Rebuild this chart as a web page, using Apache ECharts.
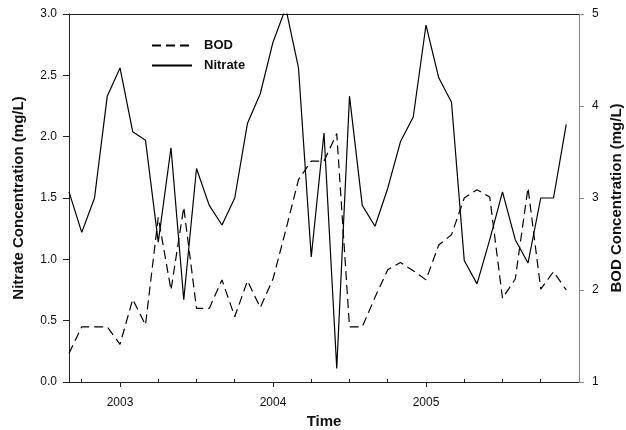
<!DOCTYPE html>
<html><head><meta charset="utf-8">
<script src="https://cdn.jsdelivr.net/npm/echarts@6/dist/echarts.min.js"></script>
<style>html,body{margin:0;padding:0;background:#fff}#c{width:626px;height:430px}</style>
</head><body><div id="c"></div>
<script>
const dates = ["2002-09","2002-10","2002-11","2002-12","2003-01","2003-02","2003-03","2003-04","2003-05","2003-06",
  "2003-07","2003-08","2003-09","2003-10","2003-11","2003-12","2004-01","2004-02","2004-03","2004-04",
  "2004-05","2004-06","2004-07","2004-08","2004-09","2004-10","2004-11","2004-12","2005-01","2005-02",
  "2005-03","2005-04","2005-05","2005-06","2005-07","2005-08","2005-09","2005-10","2005-11","2005-12"];
const nitrate = [1.55,1.22,1.50,2.33,2.56,2.04,1.97,1.14,1.91,0.67,
  1.74,1.44,1.28,1.50,2.11,2.35,2.77,3.05,2.56,1.02,
  2.03,0.11,2.33,1.44,1.27,1.58,1.96,2.16,2.91,2.48,
  2.28,0.99,0.80,1.16,1.55,1.16,0.97,1.50,1.50,2.10];
const bod = [1.31,1.60,1.60,1.60,1.41,1.90,1.62,2.79,2.00,2.90,
  1.80,1.80,2.11,1.71,2.10,1.81,2.12,2.65,3.20,3.40,
  3.40,3.70,1.60,1.60,1.92,2.22,2.30,2.21,2.11,2.49,
  2.60,3.00,3.09,3.01,1.91,2.12,3.11,2.01,2.20,2.00];
const yearTicks = [2003, 2004, 2005];
const quarterTicks = [2002.75, 2003.25, 2003.5, 2003.75, 2004.25, 2004.5, 2004.75, 2005.25, 2005.5, 2005.75];

const toYear = d => +d.slice(0,4) + (+d.slice(5,7) - 1) / 12;
const xMin = toYear("2002-09"), xMax = 2006;
const font = "'Liberation Sans', Arial, sans-serif";
const dark = '#222';

const chart = echarts.init(document.getElementById('c'));
chart.setOption({
  animation: false,
  backgroundColor: '#fff',
  grid: { left: 69, right: 47, top: 14, bottom: 48, containLabel: false, outerBoundsMode: 'none' },
  legend: {
    orient: 'vertical', left: 146, top: 34, itemWidth: 40, itemHeight: 12, itemGap: 7,
    data: ['BOD', 'Nitrate'],
    itemStyle: { color: 'transparent', borderColor: 'transparent', borderWidth: 0 },
    textStyle: { fontFamily: font, fontWeight: 'bold', fontSize: 13, color: '#111', padding: [0,0,0,7] }
  },
  xAxis: [
    { type: 'value', min: xMin, max: xMax, position: 'bottom', offset: 0,
      axisLine: { onZero: false, lineStyle: { color: dark, width: 1 } },
      axisTick: { customValues: yearTicks, length: 5, lineStyle: { color: dark } },
      axisLabel: { customValues: yearTicks, formatter: v => String(Math.round(v)), fontFamily: font, fontSize: 12, color: '#111', margin: 15 },
      splitLine: { show: false },
      name: 'Time', nameLocation: 'middle', nameGap: 31,
      nameTextStyle: { fontFamily: font, fontWeight: 'bold', fontSize: 15, color: '#111' } },
    { type: 'value', min: xMin, max: xMax, position: 'bottom', offset: 0,
      axisLine: { show: false, onZero: false },
      axisTick: { customValues: quarterTicks, inside: true, length: 3, lineStyle: { color: dark } },
      axisLabel: { show: false }, splitLine: { show: false } },
    { type: 'value', min: xMin, max: xMax, position: 'top', offset: 0,
      axisLine: { show: true, onZero: false, lineStyle: { color: dark } },
      axisTick: { show: false }, axisLabel: { show: false }, splitLine: { show: false } }
  ],
  yAxis: [
    { type: 'value', min: 0, max: 3, interval: 0.5, position: 'left',
      axisLine: { show: true, lineStyle: { color: dark } },
      axisTick: { show: true, length: 6, lineStyle: { color: dark } },
      axisLabel: { formatter: v => v.toFixed(1), fontFamily: font, fontSize: 12, color: '#111', margin: 12 },
      splitLine: { show: false },
      name: 'Nitrate Concentration (mg/L)', nameLocation: 'middle', nameGap: 43, nameRotate: 90,
      nameTextStyle: { fontFamily: font, fontWeight: 'bold', fontSize: 15, color: '#111' } },
    { type: 'value', min: 1, max: 5, interval: 1, position: 'right',
      axisLine: { show: true, lineStyle: { color: '#888' } },
      axisTick: { show: true, length: 5, lineStyle: { color: '#888' } },
      axisLabel: { fontFamily: font, fontSize: 12, color: '#111', margin: 13 },
      splitLine: { show: false },
      name: 'BOD Concentration (mg/L)', nameLocation: 'middle', nameGap: 21, nameRotate: 90,
      nameTextStyle: { fontFamily: font, fontWeight: 'bold', fontSize: 15, color: '#111' } }
  ],
  series: [
    { name: 'BOD', type: 'line', xAxisIndex: 0, yAxisIndex: 1, symbol: 'none',
      data: dates.map((d, i) => [toYear(d), bod[i]]),
      lineStyle: { color: '#000', width: 1.2, type: [9, 5] }, itemStyle: { color: '#000' } },
    { name: 'Nitrate', type: 'line', xAxisIndex: 0, yAxisIndex: 0, symbol: 'none', clip: true,
      data: dates.map((d, i) => [toYear(d), nitrate[i]]),
      lineStyle: { color: '#000', width: 1.2 }, itemStyle: { color: '#000' } }
  ]
});
</script></body></html>
